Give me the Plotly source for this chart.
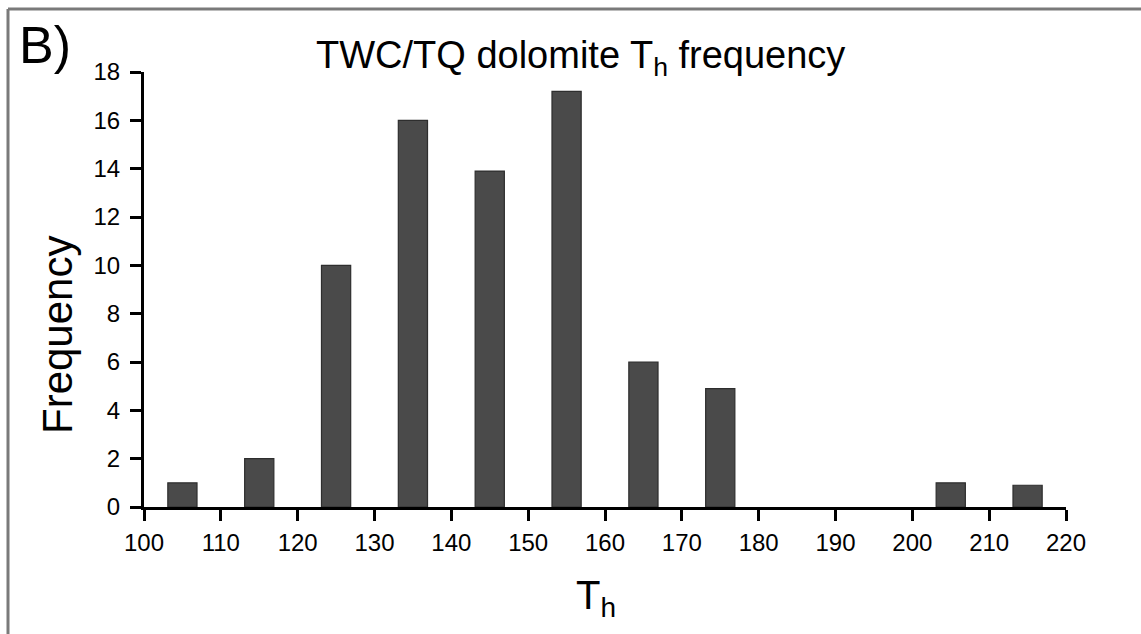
import plotly.graph_objects as go

# Data
bin_centers = [105, 115, 125, 135, 145, 155, 165, 175, 185, 195, 205, 215]
frequency = [1, 2, 10, 16, 13.9, 17.2, 6, 4.9, 0, 0, 1, 0.9]
x_ticks = [100, 110, 120, 130, 140, 150, 160, 170, 180, 190, 200, 210, 220]
y_ticks = [0, 2, 4, 6, 8, 10, 12, 14, 16, 18]

W, H = 1141, 634
ML, MR, MT, MB = 144, 75, 72, 127
PW, PH = W - ML - MR, H - MT - MB

def px(x):
    return (x - ML) / PW

def py(y):
    return (H - MB - y) / PH

FONT = "Liberation Sans, Arial, Helvetica, sans-serif"

# no outline on empty bins
outline_widths = [1.2 if v > 0 else 0 for v in frequency]

fig = go.Figure()
fig.add_trace(go.Bar(
    x=bin_centers, y=frequency, width=3.8,
    marker=dict(color="#4a4a4a", line=dict(color="#2e2e2e", width=outline_widths)),
    showlegend=False,
))

axis_common = dict(
    showline=True, linecolor="black", linewidth=3,
    ticks="outside", ticklen=11, tickwidth=3, tickcolor="black",
    showgrid=False, zeroline=False,
    tickfont=dict(family=FONT, size=24, color="black"),
)

fig.update_xaxes(range=[100, 220], tickvals=x_ticks, ticktext=[str(v) for v in x_ticks],
                 ticklabelstandoff=1, **axis_common)
fig.update_yaxes(range=[0, 18], tickvals=y_ticks, ticktext=[str(v) for v in y_ticks],
                 ticklabelstandoff=5, **axis_common)

annotations = [
    dict(text="TWC/TQ dolomite T<sub>h</sub> frequency", x=px(580), y=py(58),
         xref="paper", yref="paper", xanchor="center", yanchor="middle",
         showarrow=False, font=dict(family=FONT, size=38, color="black")),
    dict(text="B)", x=px(17), y=py(45), xref="paper", yref="paper",
         xanchor="left", yanchor="middle", showarrow=False,
         font=dict(family=FONT, size=52, color="black")),
    dict(text="Frequency", x=px(57), y=py(335), xref="paper", yref="paper",
         xanchor="center", yanchor="middle", textangle=-90, showarrow=False,
         font=dict(family=FONT, size=42, color="black")),
    dict(text="T<sub>h</sub>", x=px(596), y=py(598), xref="paper", yref="paper",
         xanchor="center", yanchor="middle", showarrow=False,
         font=dict(family=FONT, size=40, color="black")),
]

shapes = [
    dict(type="line", xref="paper", yref="paper", x0=px(8), x1=px(W + 5),
         y0=py(9), y1=py(9), line=dict(color="#7a7a7a", width=3)),
    dict(type="line", xref="paper", yref="paper", x0=px(8), x1=px(8),
         y0=py(9), y1=py(H + 5), line=dict(color="#7a7a7a", width=3)),
]

fig.update_layout(
    width=W, height=H,
    margin=dict(l=ML, r=MR, t=MT, b=MB, pad=0),
    paper_bgcolor="white", plot_bgcolor="white",
    annotations=annotations, shapes=shapes,
    font=dict(family=FONT, color="black"),
)

fig.write_html("out.html")
